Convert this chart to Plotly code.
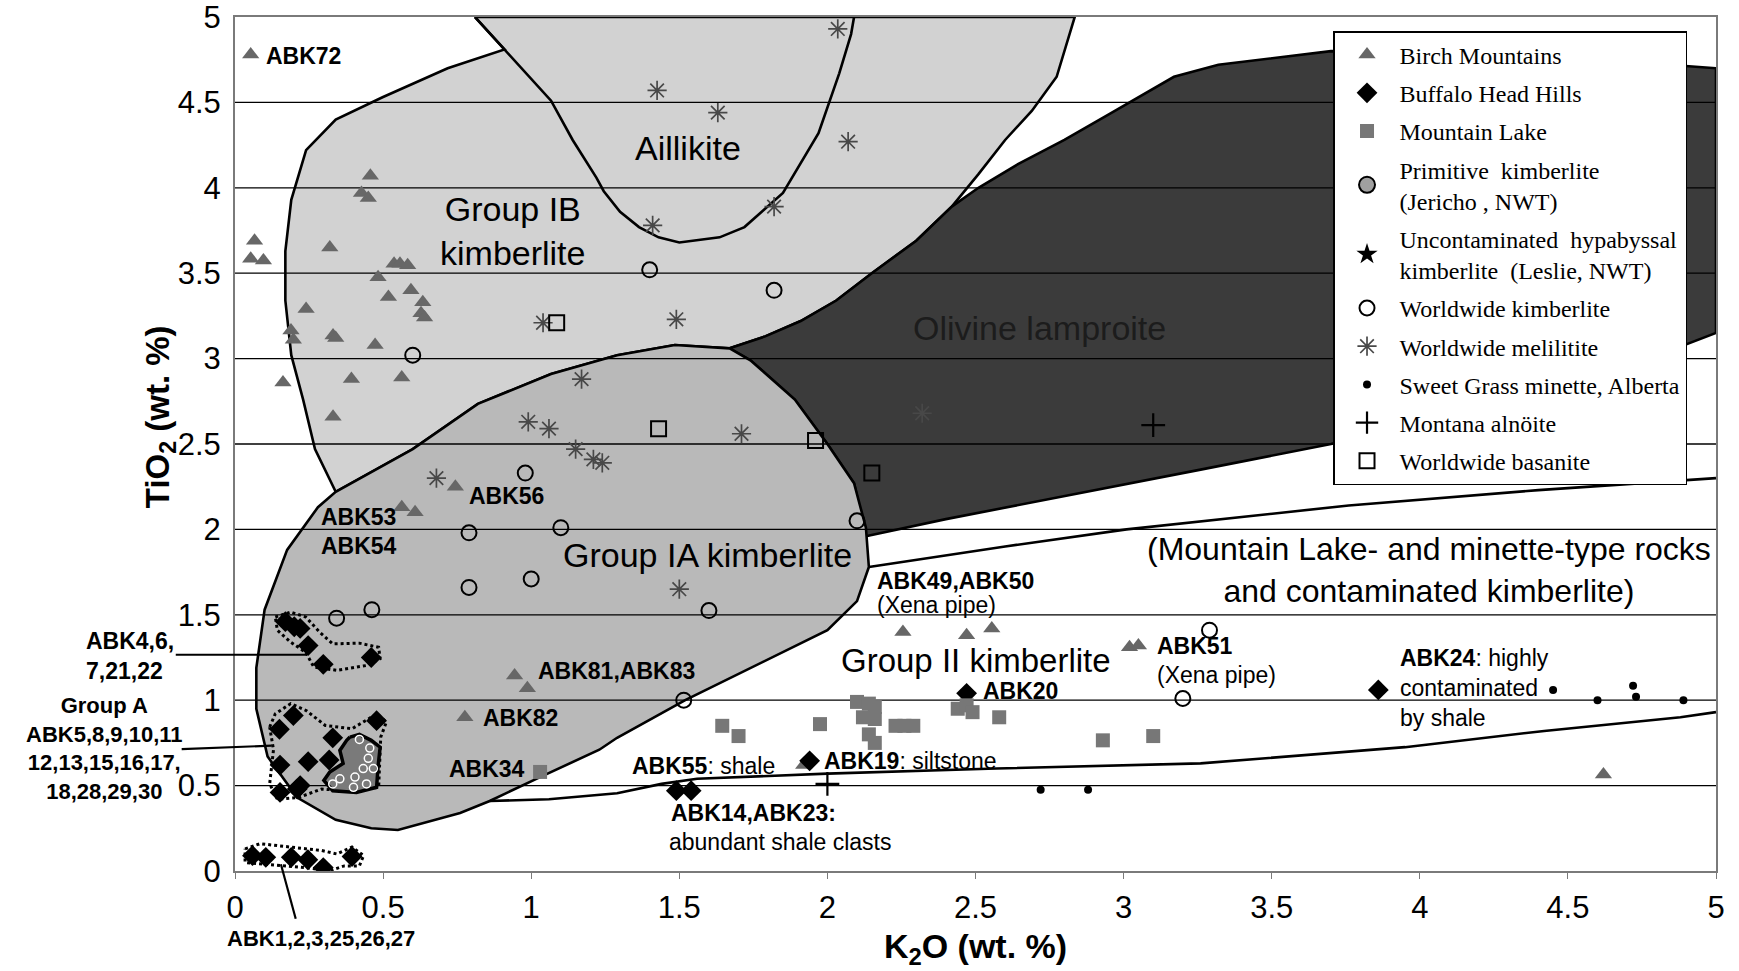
import plotly.graph_objects as go

# ---------------- data ----------------
X_RANGE = [0, 5]
Y_RANGE = [0, 5]

# region boundaries (K2O, TiO2)
IB_K = [0.81, 0.91, 0.718, 0.498, 0.34, 0.24, 0.19, 0.17, 0.17, 0.19, 0.23, 0.27, 0.34,
        0.60, 0.82, 1.067, 1.29, 1.485, 1.67, 1.79, 1.91, 2.03, 2.15, 2.30, 2.42, 2.51,
        2.60, 2.69, 2.774, 2.81, 2.835]
IB_T = [5.0, 4.81, 4.70, 4.53, 4.40, 4.22, 3.93, 3.63, 3.34, 3.02, 2.76, 2.47, 2.22,
        2.47, 2.735, 2.91, 3.02, 3.08, 3.06, 3.13, 3.22, 3.34, 3.50, 3.69, 3.89, 4.08,
        4.28, 4.45, 4.65, 4.86, 5.0]

AIL_K = [0.81, 0.91, 1.067, 1.14, 1.22, 1.245, 1.30, 1.364, 1.43, 1.50, 1.636, 1.72,
         1.85, 1.97, 2.04, 2.08, 2.09]
AIL_T = [5.0, 4.81, 4.51, 4.28, 4.06, 3.98, 3.86, 3.77, 3.71, 3.68, 3.71, 3.77,
         3.97, 4.32, 4.67, 4.90, 5.0]

LAMP_K = [1.67, 1.79, 1.91, 2.03, 2.15, 2.30, 2.42, 2.51, 2.645, 2.80, 2.95, 3.17, 3.32,
          3.70, 4.30, 5.0, 5.0, 4.70, 4.30, 3.70, 3.26, 2.75, 2.40, 2.13, 2.09, 2.0,
          1.89, 1.74, 1.67]
LAMP_T = [3.06, 3.13, 3.22, 3.34, 3.50, 3.69, 3.89, 4.00, 4.14, 4.28, 4.43, 4.65, 4.72,
          4.80, 4.79, 4.70, 3.15, 2.95, 2.75, 2.50, 2.35, 2.18, 2.06, 1.96, 2.27, 2.50,
          2.76, 2.99, 3.06]

IA_K = [1.67, 1.74, 1.89, 2.0, 2.09, 2.13, 2.14, 2.10, 2.0, 1.74, 1.52, 1.29, 1.23,
        1.03, 0.86, 0.76, 0.55, 0.46, 0.34, 0.21, 0.11, 0.072, 0.072, 0.10, 0.176,
        0.28, 0.34, 0.60, 0.82, 1.067, 1.29, 1.485]
IA_T = [3.06, 2.99, 2.76, 2.50, 2.27, 2.01, 1.78, 1.58, 1.41, 1.19, 1.0, 0.78, 0.71,
        0.55, 0.41, 0.34, 0.24, 0.25, 0.30, 0.43, 0.67, 0.95, 1.19, 1.53, 1.88,
        2.13, 2.22, 2.47, 2.735, 2.91, 3.02, 3.08]

G2TOP_K = [2.14, 2.60, 3.01, 3.76, 4.40, 5.0]
G2TOP_T = [1.78, 1.90, 2.00, 2.14, 2.23, 2.30]
G2BOT_K = [0.86, 1.06, 1.29, 1.44, 1.56, 2.0, 2.57, 3.26, 3.95, 4.42, 4.88, 5.0]
G2BOT_T = [0.41, 0.42, 0.455, 0.51, 0.54, 0.57, 0.60, 0.63, 0.725, 0.82, 0.90, 0.93]

# dotted outlines around Buffalo Head Hills groups
OUT1_K = [0.136, 0.188, 0.239, 0.285, 0.33, 0.42, 0.485, 0.49, 0.447, 0.343, 0.266, 0.239, 0.188, 0.143]
OUT1_T = [1.487, 1.516, 1.487, 1.40, 1.33, 1.334, 1.31, 1.243, 1.204, 1.175, 1.194, 1.28, 1.34, 1.41]
OUT2_K = [0.117, 0.136, 0.188, 0.24, 0.305, 0.395, 0.479, 0.511, 0.492, 0.485, 0.369, 0.292, 0.214, 0.143, 0.117, 0.13]
OUT2_T = [0.843, 0.92, 0.98, 0.94, 0.852, 0.833, 0.92, 0.872, 0.784, 0.49, 0.47, 0.48, 0.43, 0.42, 0.51, 0.71]
OUT3_K = [0.034, 0.085, 0.188, 0.292, 0.343, 0.395, 0.434, 0.42, 0.369, 0.317, 0.24, 0.11, 0.034]
OUT3_T = [0.13, 0.16, 0.14, 0.12, 0.10, 0.14, 0.09, 0.03, 0.03, 0.0, 0.02, 0.04, 0.05]

# primitive kimberlite field (Jericho)
JER_K = [0.388, 0.42, 0.46, 0.49, 0.483, 0.478, 0.41, 0.33, 0.30, 0.32, 0.365, 0.354, 0.377]
JER_T = [0.784, 0.80, 0.765, 0.725, 0.61, 0.49, 0.46, 0.47, 0.53, 0.58, 0.63, 0.706, 0.765]
JERC_K = [0.42, 0.455, 0.45, 0.467, 0.433, 0.405, 0.354, 0.33, 0.40, 0.444]
JERC_T = [0.77, 0.72, 0.66, 0.60, 0.60, 0.55, 0.54, 0.51, 0.49, 0.51]

# sample points
BIRCH_K = [0.053, 0.066, 0.053, 0.096, 0.457, 0.427, 0.45, 0.32, 0.537, 0.557, 0.583, 0.483,
           0.518, 0.594, 0.634, 0.628, 0.64, 0.24, 0.189, 0.197, 0.331, 0.34, 0.473, 0.162,
           0.393, 0.563, 0.331, 0.744, 0.563, 0.608, 0.944, 0.987, 0.776, 2.255, 2.47,
           2.555, 3.02, 3.05, 1.92, 4.62]
BIRCH_T = [4.78, 3.69, 3.585, 3.575, 4.07, 3.97, 3.94, 3.65, 3.555, 3.555, 3.546, 3.477,
           3.36, 3.40, 3.33, 3.265, 3.24, 3.29, 3.165, 3.11, 3.135, 3.12, 3.08, 2.86,
           2.88, 2.89, 2.66, 2.25, 2.13, 2.10, 1.145, 1.07, 0.90, 1.40, 1.38,
           1.42, 1.31, 1.32, 0.62, 0.565]

BUFF_K = [0.17, 0.20, 0.22, 0.247, 0.298, 0.46,
          0.197, 0.15, 0.478, 0.33, 0.247, 0.318, 0.152, 0.22, 0.152, 0.21,
          0.059, 0.104, 0.19, 0.246, 0.298, 0.395,
          2.47, 3.86, 1.49, 1.54, 1.94]
BUFF_T = [1.46, 1.43, 1.42, 1.32, 1.21, 1.25,
          0.91, 0.83, 0.88, 0.78, 0.64, 0.65, 0.62, 0.50, 0.46, 0.48,
          0.09, 0.08, 0.08, 0.066, 0.02, 0.085,
          1.04, 1.06, 0.47, 0.47, 0.645]

MTLAKE_K = [1.645, 1.70, 1.975, 2.10, 2.14, 2.16, 2.12, 2.16, 2.14, 2.16, 2.23, 2.26, 2.29,
            2.44, 2.47, 2.49, 2.58, 2.93, 3.10, 1.03]
MTLAKE_T = [0.85, 0.79, 0.86, 0.99, 0.98, 0.96, 0.90, 0.89, 0.80, 0.75, 0.85, 0.85, 0.85,
            0.95, 0.97, 0.93, 0.90, 0.765, 0.79, 0.58]

WWKIMB_K = [0.60, 1.40, 1.82, 0.98, 1.10, 0.79, 0.79, 1.0, 1.60, 2.10, 0.343, 0.462, 1.515, 3.29, 3.20]
WWKIMB_T = [3.02, 3.52, 3.40, 2.33, 2.01, 1.98, 1.66, 1.71, 1.525, 2.05, 1.48, 1.53, 1.0, 1.41, 1.01]

MELIL_K = [2.035, 1.425, 1.63, 2.07, 1.82, 1.41, 1.49, 1.04, 1.17, 0.99, 1.06, 1.15, 1.21, 1.24,
           1.71, 2.32, 0.68, 1.50]
MELIL_T = [4.93, 4.57, 4.44, 4.27, 3.89, 3.78, 3.23, 3.21, 2.88, 2.63, 2.59, 2.47, 2.41, 2.39,
           2.56, 2.68, 2.30, 1.65]

SWEET_K = [2.72, 2.88, 4.45, 4.60, 4.72, 4.73, 4.89]
SWEET_T = [0.475, 0.475, 1.06, 1.0, 1.085, 1.02, 1.0]

ALNO_K = [2.0, 3.10]
ALNO_T = [0.51, 2.61]

BASAN_K = [1.086, 1.43, 1.96, 2.15]
BASAN_T = [3.21, 2.59, 2.52, 2.33]

TICKS = [0, 0.5, 1, 1.5, 2, 2.5, 3, 3.5, 4, 4.5, 5]
TICK_TEXT = ["0", "0.5", "1", "1.5", "2", "2.5", "3", "3.5", "4", "4.5", "5"]

REGION_LABELS = [
    ("Aillikite", 1.528, 4.234, 34),
    ("Group IB<br>kimberlite", 0.936, 3.747, 34),
    ("Group IA kimberlite", 1.595, 1.85, 34),
    ("Group II kimberlite", 2.502, 1.235, 33),
    ("(Mountain Lake- and minette-type rocks<br>and contaminated kimberlite)", 4.03, 1.76, 32),
]
SAMPLE_LABELS = [
    ("<b>ABK72</b>", 0.097, 4.77, "left"),
    ("<b>ABK56</b>", 0.783, 2.195, "left"),
    ("<b>ABK53</b>", 0.285, 2.07, "left"),
    ("<b>ABK54</b>", 0.285, 1.90, "left"),
    ("<b>ABK81,ABK83</b>", 1.015, 1.17, "left"),
    ("<b>ABK82</b>", 0.831, 0.896, "left"),
    ("<b>ABK34</b>", 0.985, 0.60, "right"),
    ("<b>ABK49,ABK50</b>", 2.161, 1.695, "left"),
    ("(Xena pipe)", 2.161, 1.555, "left"),
    ("<b>ABK51</b>", 3.105, 1.318, "left"),
    ("(Xena pipe)", 3.105, 1.149, "left"),
    ("<b>ABK20</b>", 2.52, 1.055, "left"),
    ("<b>ABK55</b>: shale", 1.333, 0.617, "left"),
    ("<b>ABK19</b>: siltstone", 1.981, 0.643, "left"),
    ("<b>ABK14,ABK23:</b>", 1.464, 0.338, "left"),
    ("abundant shale clasts", 1.457, 0.169, "left"),
    ("<b>ABK24</b>: highly<br>contaminated<br>by shale", 3.925, 1.071, "left"),
]
# labels sitting left of / below the axes (K2O, TiO2 positions)
OUTSIDE_LABELS = [
    ("<b>ABK4,6,<br>7,21,22</b>", -0.51, 1.256, "left", 23),
    ("<b>Group A<br>ABK5,8,9,10,11<br>12,13,15,16,17,<br>18,28,29,30</b>", -0.44, 0.72, "center", 22),
    ("<b>ABK1,2,3,25,26,27</b>", 0.292, -0.395, "center", 22),
]
LEADERS = [(0.243, 1.266, -0.20, 1.266), (0.124, 0.734, -0.18, 0.714), (0.155, 0.04, 0.205, -0.28)]
Y_TITLE_POS = (-0.255, 2.66)   # (K2O, TiO2) centre of the rotated y-axis title


def px(k):
    return (k - X_RANGE[0]) / (X_RANGE[1] - X_RANGE[0])


def py(t):
    return (t - Y_RANGE[0]) / (Y_RANGE[1] - Y_RANGE[0])


fig = go.Figure()


def region(xs, ys, color):
    fig.add_trace(go.Scatter(x=xs + [xs[0]], y=ys + [ys[0]], mode="lines", fill="toself",
                             fillcolor=color, line=dict(color="black", width=2.6),
                             showlegend=False, hoverinfo="skip"))


def line(xs, ys, width=2.6, dash="solid", close=False):
    if close:
        xs = xs + [xs[0]]
        ys = ys + [ys[0]]
    fig.add_trace(go.Scatter(x=xs, y=ys, mode="lines",
                             line=dict(color="black", width=width, dash=dash),
                             showlegend=False, hoverinfo="skip"))


region(IB_K, IB_T, "#d2d2d2")
region(LAMP_K, LAMP_T, "#3b3b3b")
region(IA_K, IA_T, "#b9b9b9")
line(AIL_K, AIL_T)
line(G2TOP_K, G2TOP_T)
line(G2BOT_K, G2BOT_T)

# horizontal gridlines drawn over the fields
gx, gy = [], []
for t in TICKS[1:-1]:
    gx += [TICKS[0], TICKS[-1], None]
    gy += [t, t, None]
fig.add_trace(go.Scatter(x=gx, y=gy, mode="lines", line=dict(color="black", width=1.3),
                         showlegend=False, hoverinfo="skip"))

line(OUT1_K, OUT1_T, width=3, dash="dot", close=True)
line(OUT2_K, OUT2_T, width=3, dash="dot", close=True)
line(OUT3_K, OUT3_T, width=3, dash="dot", close=True)

fig.add_trace(go.Scatter(x=JER_K + [JER_K[0]], y=JER_T + [JER_T[0]], mode="lines", fill="toself",
                         fillcolor="#7a7a7a", line=dict(color="black", width=3.5),
                         showlegend=False, hoverinfo="skip"))
fig.add_trace(go.Scatter(x=JERC_K, y=JERC_T, mode="markers",
                         marker=dict(symbol="circle-open", size=8, color="white", line=dict(width=1.5)),
                         showlegend=False, hoverinfo="skip"))


def pts(name, xs, ys, rank, **marker):
    fig.add_trace(go.Scatter(x=xs, y=ys, mode="markers", name=name, marker=marker,
                             legendrank=rank, legendgroup=name, hoverinfo="skip"))


pts("Birch Mountains", BIRCH_K, BIRCH_T, 1, symbol="triangle-up", size=15, color="#676767")
pts("Buffalo Head Hills", BUFF_K, BUFF_T, 2, symbol="diamond", size=16, color="black")
pts("Mountain Lake", MTLAKE_K, MTLAKE_T, 3, symbol="square", size=14, color="#777777")
fig.add_trace(go.Scatter(x=[None], y=[None], mode="markers",
                         marker=dict(symbol="circle", size=24, color="#a0a0a0",
                                     line=dict(color="black", width=2)),
                         name="Primitive  kimberlite<br>(Jericho , NWT)", legendrank=4,
                         legendgroup="jer"))
fig.add_trace(go.Scatter(x=[None], y=[None], mode="markers",
                         marker=dict(symbol="star", size=22, color="black"),
                         name="Uncontaminated  hypabyssal<br>kimberlite  (Leslie, NWT)", legendrank=5,
                         legendgroup="star"))
pts("Worldwide kimberlite", WWKIMB_K, WWKIMB_T, 6, symbol="circle-open", size=15,
    color="black", line=dict(width=2))
pts("Worldwide melilitite", MELIL_K, MELIL_T, 7, symbol="asterisk-open", size=16,
    color="#484848", line=dict(width=1.7, color="#484848"))
pts("Sweet Grass minette, Alberta", SWEET_K, SWEET_T, 8, symbol="circle", size=8, color="black")
pts("Montana alnöite", ALNO_K, ALNO_T, 9, symbol="cross-thin-open", size=17,
    color="black", line=dict(width=2.2, color="black"))
pts("Worldwide basanite", BASAN_K, BASAN_T, 10, symbol="square-open", size=15,
    color="black", line=dict(width=2))

SANS = "Liberation Sans, Arial, sans-serif"
ann = []
for txt, x, y, s in REGION_LABELS:
    ann.append(dict(text=txt, x=x, y=y, xref="x", yref="y", showarrow=False,
                    font=dict(family=SANS, size=s, color="black"), align="center"))
ann.append(dict(text="Olivine lamproite", x=2.715, y=3.18, xref="x", yref="y", showarrow=False,
                font=dict(family=SANS, size=34, color="#1c1c1c")))
for txt, x, y, anc in SAMPLE_LABELS:
    ann.append(dict(text=txt, x=x, y=y, xref="x", yref="y", showarrow=False, xanchor=anc,
                    align="left", font=dict(family=SANS, size=23, color="black")))
for txt, x, y, anc, s in OUTSIDE_LABELS:
    ann.append(dict(text=txt, x=px(x), y=py(y), xref="paper", yref="paper", showarrow=False,
                    xanchor=anc, yanchor="middle", align=anc,
                    font=dict(family=SANS, size=s, color="black")))
ann.append(dict(text="<b>TiO<sub>2</sub> (wt. %)</b>", x=px(Y_TITLE_POS[0]), y=py(Y_TITLE_POS[1]),
                xref="paper", yref="paper", showarrow=False, textangle=-90,
                xanchor="center", yanchor="middle",
                font=dict(family=SANS, size=33, color="black")))

shapes = []
for (x0, y0, x1, y1) in LEADERS:
    shapes.append(dict(type="line", xref="paper", yref="paper", x0=px(x0), y0=py(y0),
                       x1=px(x1), y1=py(y1), line=dict(color="black", width=2.2)))

fig.update_layout(
    width=1739, height=971,
    margin=dict(l=235, r=23, t=17, b=100),
    paper_bgcolor="white", plot_bgcolor="white",
    annotations=ann, shapes=shapes,
    showlegend=True,
    legend=dict(x=0.7414, y=0.9836, xanchor="left", yanchor="top",
                bgcolor="white", bordercolor="black", borderwidth=1.5,
                font=dict(family="Liberation Serif, Times New Roman, serif", size=24, color="black"),
                tracegroupgap=4, itemwidth=55, traceorder="grouped"),
    xaxis=dict(range=X_RANGE, tickvals=TICKS, ticktext=TICK_TEXT, showgrid=False,
               zeroline=False, showline=True, linecolor="#7a7a7a", linewidth=2, mirror=True,
               ticks="outside", ticklen=6, tickcolor="#7a7a7a", ticklabelstandoff=2,
               automargin=False, ticklabeloverflow="allow",
               tickfont=dict(family=SANS, size=31, color="black"),
               title=dict(text="<b>K<sub>2</sub>O (wt. %)</b>", standoff=10,
                          font=dict(family=SANS, size=34, color="black"))),
    yaxis=dict(range=Y_RANGE, tickvals=TICKS, ticktext=TICK_TEXT, showgrid=False,
               zeroline=False, showline=True, linecolor="#7a7a7a", linewidth=2, mirror=True,
               ticks="", ticklabelstandoff=6, automargin=False, ticklabeloverflow="allow",
               tickfont=dict(family=SANS, size=31, color="black")),
)

fig.write_html("out.html")
